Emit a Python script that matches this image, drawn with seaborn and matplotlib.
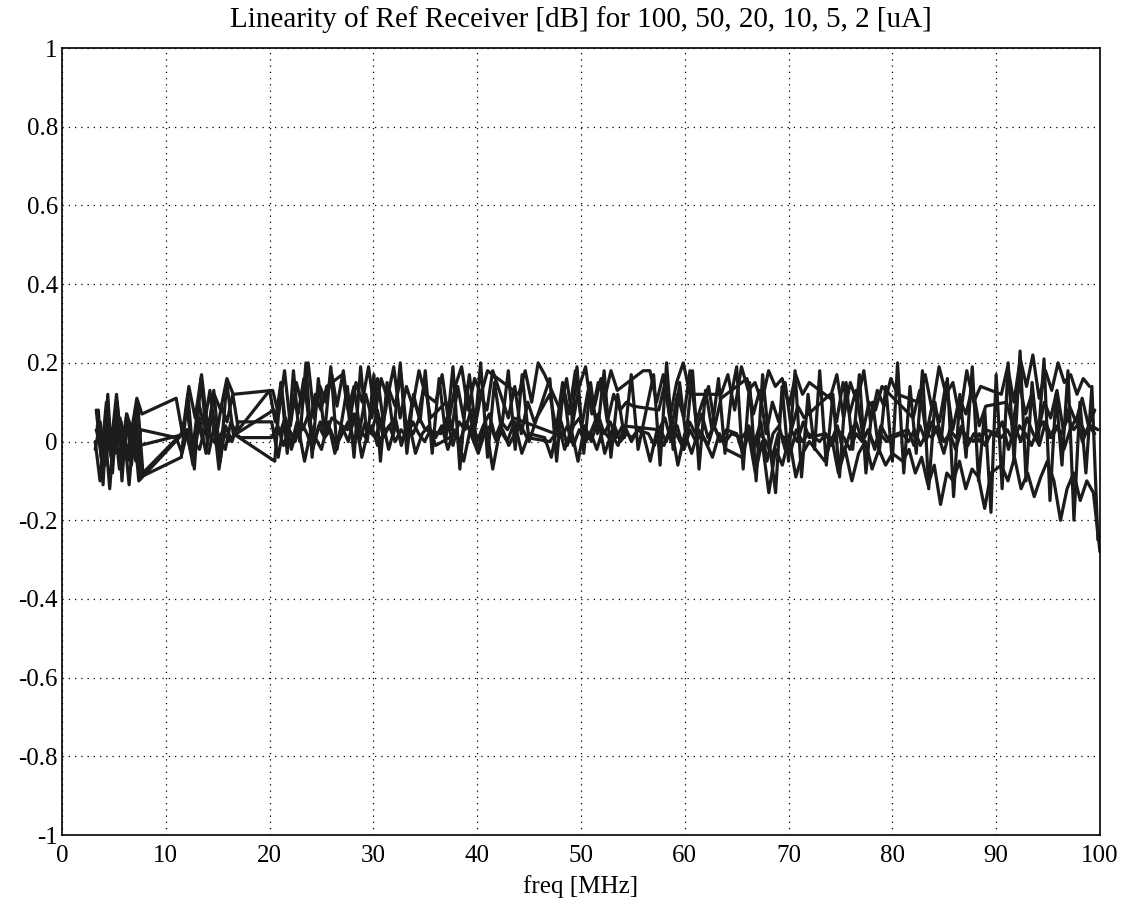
import numpy as np
import pandas as pd
import matplotlib
matplotlib.use("Agg")
import matplotlib.pyplot as plt
import seaborn as sns

# each series: list of (f_start, f_end, values) sweep segments, values in dB
s100 = [
    (3.3, 7.6, [0.03, -0.02, 0.04, -0.04, 0.02, 0.05, -0.03, 0.01, -0.05, 0.03]),
    (11.0, 17.2, [0.01, -0.03, 0.03, 0.0, -0.02, 0.04, 0.01, -0.01, 0.03, 0.0, 0.02, 0.01]),
    (20.2, 35.5, [0.01, 0.04, -0.01, 0.03, 0.0, 0.05, 0.02, -0.02, 0.04, 0.01, 0.03, -0.01, 0.02, 0.05,
                  0.0, 0.03, 0.01, 0.04, -0.01, 0.02, 0.04, 0.0, 0.03, 0.01, 0.05, 0.02, 0.0, 0.03]),
    (36.0, 44.8, [0.01, 0.04, -0.02, 0.03, 0.0, 0.05, 0.01, -0.03, 0.02, 0.04, 0.0, 0.03, -0.01, 0.02, 0.04, 0.01]),
    (47.0, 55.5, [0.0, 0.02, 0.01, 0.04, -0.01, 0.03, 0.0, 0.02, -0.02, 0.03, 0.01, 0.04, 0.0, 0.02, 0.01, 0.03]),
    (56.5, 64.5, [0.02, -0.01, 0.03, 0.0, 0.04, 0.01, -0.02, 0.03, 0.0, 0.02, -0.01, 0.04, 0.01, 0.0, 0.02]),
    (65.5, 72.5, [0.01, 0.03, -0.02, 0.02, 0.0, -0.04, 0.02, 0.01, -0.03, 0.03, 0.0, 0.02, 0.01]),
    (73.0, 80.0, [0.0, 0.02, -0.01, 0.03, 0.01, -0.02, 0.02, 0.0, 0.03, -0.01, 0.02, 0.0, 0.01]),
    (81.0, 89.5, [0.02, 0.0, 0.03, -0.01, 0.02, 0.01, 0.04, 0.0, 0.02, -0.02, 0.03, 0.01, 0.0, 0.02, -0.01, 0.02]),
    (90.5, 99.8, [0.01, 0.03, 0.0, 0.04, 0.02, -0.01, 0.03, 0.05, 0.01, 0.04, 0.02, 0.06, 0.03, 0.05, 0.02, 0.04, 0.03]),
]
s50 = [
    (3.2, 7.5, [-0.02, 0.05, -0.06, 0.03, -0.03, 0.06, 0.0, -0.05, 0.04, -0.01]),
    (12.0, 16.8, [0.02, -0.04, 0.05, 0.0, -0.03, 0.04, 0.01, -0.02, 0.05, 0.02]),
    (20.4, 26.0, [0.08, 0.02, 0.06, -0.01, 0.05, 0.03, 0.07, 0.0, 0.05, 0.02, 0.06]),
    (27.5, 35.0, [0.03, 0.07, 0.0, 0.05, 0.02, 0.08, 0.01, 0.04, 0.06, -0.01, 0.04, 0.02, 0.06, 0.03]),
    (36.5, 43.5, [0.02, 0.06, -0.01, 0.05, 0.03, 0.08, 0.0, 0.04, 0.07, 0.01, 0.05, 0.03, 0.06]),
    (47.5, 54.0, [0.02, 0.05, -0.01, 0.04, 0.06, 0.0, 0.03, 0.07, 0.02, 0.05, 0.01, 0.04]),
    (57.5, 64.0, [0.03, 0.06, 0.0, 0.04, -0.02, 0.05, 0.02, 0.07, 0.01, 0.04, 0.0, 0.03]),
    (65.0, 72.0, [0.02, -0.03, 0.04, 0.0, 0.05, -0.05, 0.02, 0.04, -0.02, 0.03, 0.0, 0.05, 0.01]),
    (73.5, 79.5, [0.02, 0.0, 0.04, -0.03, 0.02, 0.05, 0.0, 0.03, -0.02, 0.04, 0.01]),
    (81.5, 89.0, [0.03, -0.01, 0.04, 0.0, 0.05, 0.02, -0.03, 0.03, 0.01, 0.04, -0.01, 0.02, 0.0, 0.03]),
    (90.0, 99.5, [0.02, 0.05, -0.02, 0.04, 0.0, 0.06, 0.02, -0.01, 0.05, 0.01, 0.04, -0.02, 0.03, 0.06, 0.0, 0.04, 0.02]),
]
s20 = [
    (3.4, 7.8, [0.04, -0.06, 0.07, -0.03, 0.08, -0.05, 0.05, 0.0, 0.09, -0.08]),
    (11.5, 17.0, [0.02, 0.08, -0.02, 0.1, 0.04, 0.13, 0.0, 0.09, 0.05, 0.12, 0.03]),
    (20.0, 25.5, [0.13, 0.05, 0.15, 0.02, 0.11, 0.07, 0.16, 0.04, 0.12, 0.08, 0.14]),
    (27.0, 35.5, [0.17, 0.08, 0.14, 0.03, 0.12, 0.06, 0.16, 0.05, 0.13, 0.09, 0.17, 0.02, 0.11, 0.07, 0.15, 0.06]),
    (37.0, 41.5, [0.1, 0.03, 0.14, 0.06, 0.17, 0.04, 0.12, 0.08, 0.18]),
    (43.0, 45.5, [0.06, 0.14, 0.02, 0.1, 0.05]),
    (47.0, 55.0, [0.12, 0.03, 0.15, 0.07, 0.18, 0.04, 0.13, 0.09, 0.16, 0.05, 0.12, 0.08, 0.1, 0.09]),
    (57.5, 63.5, [0.08, 0.15, 0.03, 0.12, 0.06, 0.18, 0.05, 0.1, 0.14, 0.04, 0.11]),
    (66.0, 71.5, [0.16, 0.07, 0.13, 0.02, 0.1, 0.05, 0.15, 0.03, 0.09, 0.06]),
    (74.0, 79.0, [0.12, 0.05, 0.15, 0.07, 0.13, 0.02, 0.1, 0.08, 0.14]),
    (82.0, 89.0, [0.06, 0.13, 0.02, 0.1, 0.05, 0.15, 0.03, 0.11, 0.07, 0.14, 0.04, 0.09]),
    (91.0, 99.5, [0.1, 0.04, 0.15, 0.07, 0.12, 0.02, 0.1, 0.06, 0.13, 0.03, 0.09, 0.05, 0.11, 0.04, 0.08]),
]
s10 = [
    (3.3, 7.7, [0.08, -0.04, 0.1, 0.0, 0.12, -0.02, 0.07, 0.03, 0.11, 0.07]),
    (11.0, 16.5, [0.11, 0.02, 0.14, 0.06, 0.17, 0.03, 0.12, 0.08, 0.16, 0.12]),
    (20.3, 26.0, [0.13, 0.07, 0.18, 0.04, 0.15, 0.09, 0.2, 0.06, 0.14, 0.1, 0.17]),
    (26.5, 35.0, [0.09, 0.18, 0.05, 0.15, 0.1, 0.19, 0.07, 0.16, 0.11, 0.19, 0.06, 0.14, 0.09, 0.18, 0.12]),
    (36.0, 41.0, [0.1, 0.17, 0.05, 0.14, 0.19, 0.08, 0.16, 0.12, 0.18]),
    (44.0, 46.5, [0.12, 0.18, 0.1, 0.2, 0.17]),
    (48.0, 53.5, [0.08, 0.16, 0.05, 0.14, 0.19, 0.07, 0.15, 0.11, 0.18, 0.13]),
    (56.0, 60.5, [0.18, 0.18, 0.1, 0.17, 0.06, 0.15, 0.2, 0.12]),
    (63.5, 72.0, [0.12, 0.17, 0.08, 0.19, 0.13, 0.15, 0.1, 0.18, 0.14, 0.16, 0.09, 0.17, 0.12, 0.15]),
    (74.0, 80.5, [0.11, 0.17, 0.06, 0.15, 0.1, 0.18, 0.05, 0.13, 0.09, 0.16, 0.12]),
    (82.5, 88.5, [0.1, 0.17, 0.08, 0.19, 0.12, 0.15, 0.06, 0.18, 0.1, 0.14]),
    (90.5, 99.0, [0.12, 0.19, 0.1, 0.21, 0.14, 0.22, 0.11, 0.18, 0.13, 0.2, 0.15, 0.17, 0.12, 0.16, 0.14]),
]
s5 = [
    (3.2, 7.4, [0.0, -0.1, 0.03, -0.12, 0.05, -0.07, 0.02, -0.11, 0.04, -0.1]),
    (12.0, 17.0, [0.03, -0.06, 0.06, -0.03, 0.08, -0.07, 0.04, 0.0, 0.05]),
    (20.2, 24.0, [0.05, -0.04, 0.06, -0.02, 0.04, -0.05, 0.03]),
    (25.0, 36.0, [-0.02, 0.05, -0.03, 0.04, 0.0, 0.07, -0.04, 0.03, 0.01, 0.06, -0.02, 0.04, 0.0, 0.05,
                  -0.03, 0.02, 0.04, -0.01]),
    (38.0, 45.0, [0.02, -0.05, 0.04, -0.02, 0.05, -0.07, 0.03, 0.0, 0.05, -0.03, 0.02]),
    (46.5, 55.5, [0.01, -0.04, 0.05, -0.02, 0.03, -0.05, 0.04, 0.0, 0.06, -0.03, 0.02, -0.01, 0.04, 0.0, 0.03]),
    (56.0, 64.0, [0.02, -0.05, 0.03, -0.01, 0.04, -0.06, 0.02, -0.03, 0.03, 0.0, -0.04, 0.02, -0.02]),
    (65.5, 72.0, [-0.04, 0.02, -0.08, 0.0, -0.13, -0.02, -0.06, 0.01, -0.09, -0.03, 0.0]),
    (73.5, 80.0, [-0.05, 0.01, -0.08, -0.02, -0.1, -0.03, 0.0, -0.07, -0.02, -0.06, -0.03]),
    (81.0, 89.5, [-0.05, -0.02, -0.08, -0.04, -0.11, -0.06, -0.16, -0.08, -0.1, -0.05, -0.12, -0.07, -0.09, -0.17, -0.08]),
    (90.5, 100.0, [-0.06, -0.1, -0.04, -0.12, -0.08, -0.14, -0.09, -0.05, -0.1, -0.2, -0.12, -0.08, -0.15, -0.1, -0.13, -0.28]),
]
s2 = [
    (3.5, 7.6, [0.08, -0.11, 0.12, -0.08, 0.1, -0.1, 0.07, -0.06, 0.05, -0.09]),
    (11.5, 16.5, [-0.04, 0.12, -0.07, 0.16, 0.0, 0.13, -0.05, 0.15, 0.02]),
    (20.5, 26.5, [-0.05, 0.15, -0.03, 0.18, 0.0, 0.2, -0.04, 0.16, 0.02, 0.19, -0.02]),
    (27.5, 34.5, [0.14, -0.04, 0.19, 0.0, 0.17, -0.05, 0.15, 0.02, 0.2, -0.03, 0.12, 0.05]),
    (35.0, 45.0, [0.18, -0.03, 0.16, 0.01, 0.19, -0.07, 0.14, 0.0, 0.2, -0.04, 0.15, 0.03, 0.18, -0.02, 0.17, 0.0]),
    (47.0, 55.5, [0.16, -0.05, 0.14, 0.0, 0.19, -0.03, 0.15, 0.02, 0.18, -0.04, 0.12, 0.01, 0.17, -0.02]),
    (57.0, 64.5, [0.17, -0.06, 0.2, -0.02, 0.15, 0.01, 0.18, -0.07, 0.13, 0.03, 0.16, -0.03, 0.12]),
    (65.0, 72.5, [0.19, -0.07, 0.15, -0.1, 0.17, 0.0, -0.13, 0.14, -0.05, 0.18, -0.09, 0.12, -0.02]),
    (73.0, 80.0, [0.18, -0.06, 0.12, -0.09, 0.15, -0.02, 0.17, -0.08, 0.1, -0.03, 0.14, -0.05]),
    (80.5, 89.5, [0.2, -0.08, 0.14, -0.03, 0.18, -0.12, 0.1, 0.0, 0.16, -0.14, 0.12, -0.04, 0.19, -0.1, 0.08, -0.18]),
    (90.0, 99.8, [0.17, -0.12, 0.2, -0.05, 0.23, -0.1, 0.15, 0.0, 0.21, -0.15, 0.12, -0.06, 0.18, -0.2, 0.1, -0.08, 0.14, -0.25]),
]

series = {"100": s100, "50": s50, "20": s20, "10": s10, "5": s5, "2": s2}

rows = []
for name, segs in series.items():
    for f0, f1, vals in segs:
        for f, v in zip(np.linspace(f0, f1, len(vals)), vals):
            rows.append((name, f, v))
df = pd.DataFrame(rows, columns=["current", "freq", "dB"])

sns.set_style("white")
plt.rcParams["font.family"] = ["Liberation Serif", "DejaVu Serif"]
plt.rcParams["text.color"] = "black"

fig = plt.figure(figsize=(11.27, 9.10), dpi=100)
ax = fig.add_axes([0.055, 0.0824, 0.921, 0.8648])

for name in series:
    sub = df[df["current"] == name]
    sns.lineplot(data=sub, x="freq", y="dB", ax=ax, sort=False, estimator=None,
                 color="#1c1c1c", linewidth=2.3)

ax.set_xlim(0, 100)
ax.set_ylim(-1, 1)
ax.set_xticks(np.arange(0, 101, 10))
ax.set_yticks(np.round(np.arange(-1, 1.01, 0.2), 1))
ax.set_yticklabels(["-1", "-0.8", "-0.6", "-0.4", "-0.2", "0", "0.2", "0.4", "0.6", "0.8", "1"])
ax.grid(True, linestyle=(0, (1, 4)), color="black", linewidth=0.9)
ax.tick_params(direction="in", length=6, width=1, labelsize=18, pad=7, colors="black")
ax.tick_params(axis="y", pad=3)
for sp in ax.spines.values():
    sp.set_color("black")
    sp.set_linewidth(1.2)

ax.set_xlabel("freq [MHz]", fontsize=18, labelpad=6, color="black")
ax.set_ylabel("")
ax.set_title("Linearity of Ref Receiver [dB] for 100, 50, 20, 10, 5, 2 [uA]",
             fontsize=21, pad=15, color="black")

fig.savefig("out.png", dpi=100)
